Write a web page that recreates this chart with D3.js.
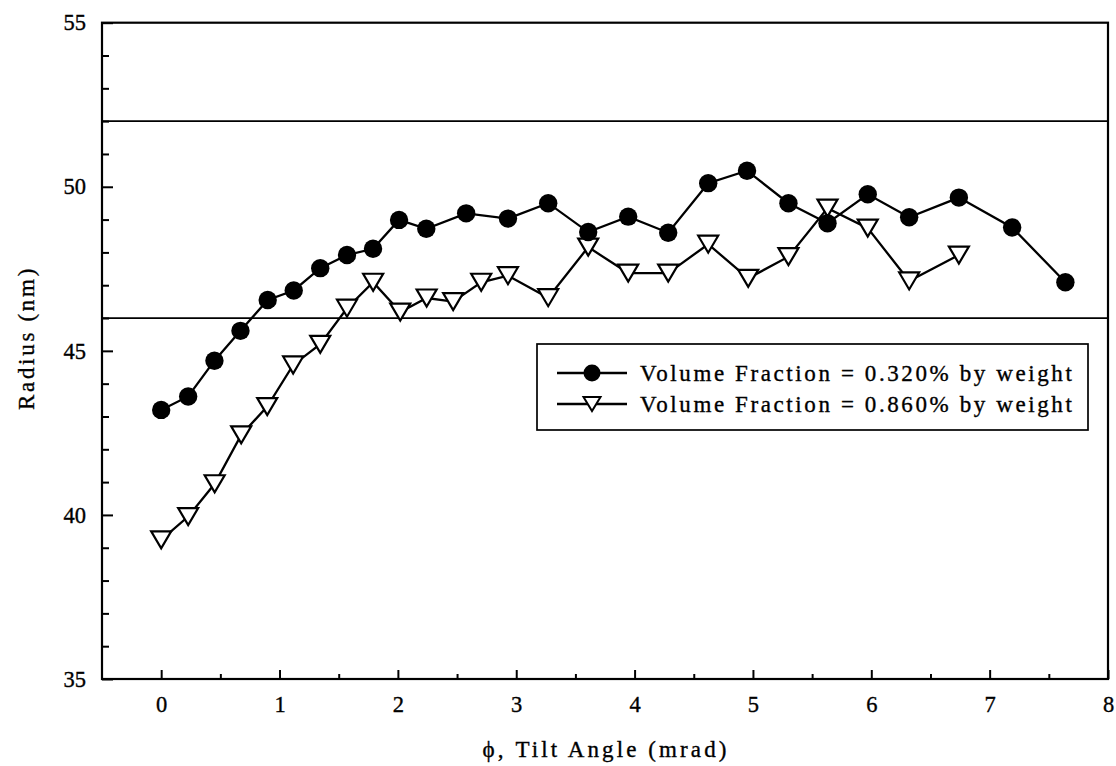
<!DOCTYPE html>
<html>
<head>
<meta charset="utf-8">
<script src="https://cdn.jsdelivr.net/npm/d3@7"></script>
<style>
  html, body { margin: 0; padding: 0; background: #fff; }
  svg text { font-family: "Liberation Serif", "Times New Roman", serif; fill: #000; stroke: #000; stroke-width: 0.35px; }
</style>
</head>
<body>
<svg id="chart" width="1116" height="766"></svg>
<script>
// Radius vs tilt angle for two volume fractions
const xTicks = [0, 1, 2, 3, 4, 5, 6, 7, 8];
const yTicks = [35, 40, 45, 50, 55];
const refLines = [52, 46];

const xCircle = [0, 0.228, 0.45, 0.67, 0.9, 1.12, 1.344, 1.57, 1.79, 2.01, 2.24, 2.577, 2.93, 3.27,
                 3.608, 3.946, 4.284, 4.622, 4.95, 5.30, 5.63, 5.97, 6.32, 6.74, 7.19, 7.64];
const yCircle = [43.20, 43.61, 44.70, 45.61, 46.55, 46.84, 47.52, 47.92, 48.11, 48.99, 48.72, 49.19, 49.03, 49.50,
                 48.62, 49.09, 48.60, 50.11, 50.49, 49.50, 48.89, 49.77, 49.07, 49.67, 48.76, 47.09];
const xTri = [0, 0.228, 0.452, 0.676, 0.896, 1.115, 1.344, 1.57, 1.791, 2.02, 2.243, 2.467, 2.704,
              2.93, 3.27, 3.608, 3.946, 4.284, 4.622, 4.96, 5.30, 5.63, 5.97, 6.32, 6.74];
const yTri = [39.24, 39.95, 40.95, 42.44, 43.30, 44.57, 45.20, 46.30, 47.09, 46.18, 46.61, 46.50, 47.09,
              47.29, 46.62, 48.16, 47.37, 47.37, 48.25, 47.21, 47.87, 49.35, 48.74, 47.13, 47.92];
const seriesLabels = ["Volume Fraction = 0.320% by weight", "Volume Fraction = 0.860% by weight"];

const svg = d3.select("#chart");
const L = 102, R = 1108, T = 22.7, B = 679;

const x = d3.scaleLinear().domain([-0.5, 8]).range([L, R]);
const y = d3.scaleLinear().domain([35, 55]).range([B, T]);

// reference lines
svg.selectAll("line.ref").data(refLines).enter().append("line")
  .attr("class", "ref")
  .attr("x1", L).attr("x2", R)
  .attr("y1", d => y(d)).attr("y2", d => y(d))
  .attr("stroke", "#000").attr("stroke-width", 1.7);

// minor ticks
const minorY = d3.range(36, 55, 1).filter(v => v % 5 !== 0);
const minorX = d3.range(0.5, 8, 1);

const yAxisMinor = svg.append("g").attr("transform", `translate(${L},0)`)
  .call(d3.axisLeft(y).tickValues(minorY).tickSize(-7).tickFormat(""));
const xAxisMinor = svg.append("g").attr("transform", `translate(0,${B})`)
  .call(d3.axisBottom(x).tickValues(minorX).tickSize(-5).tickFormat(""));

const yAxis = svg.append("g").attr("transform", `translate(${L},0)`)
  .call(d3.axisLeft(y).tickValues(yTicks).tickSize(-11).tickPadding(16).tickFormat(d3.format("d")));
const xAxis = svg.append("g").attr("transform", `translate(0,${B})`)
  .call(d3.axisBottom(x).tickValues(xTicks).tickSize(-9).tickPadding(17).tickFormat(d3.format("d")));

[yAxisMinor, xAxisMinor, yAxis, xAxis].forEach(g => {
  g.select(".domain").remove();
  g.selectAll(".tick line").attr("stroke", "#000").attr("stroke-width", 2);
});
[yAxis, xAxis].forEach(g => {
  g.selectAll(".tick text").attr("font-size", 22.5).attr("fill", "#000")
    .style("font-family", "'Liberation Serif', serif");
});
xAxis.selectAll(".tick text").attr("dy", "0.71em");

// frame
svg.append("rect")
  .attr("x", L).attr("y", T).attr("width", R - L).attr("height", B - T)
  .attr("fill", "none").attr("stroke", "#000").attr("stroke-width", 2.2);

// axis titles
svg.append("text")
  .attr("x", 606).attr("y", 757)
  .attr("text-anchor", "middle").attr("font-size", 23).attr("letter-spacing", 3.1)
  .text("\u03D5, Tilt Angle (mrad)");
svg.append("text")
  .attr("transform", `translate(34,338) rotate(-90)`)
  .attr("text-anchor", "middle").attr("font-size", 23).attr("letter-spacing", 2.7)
  .text("Radius (nm)");

const line = d3.line().x(d => x(d[0])).y(d => y(d[1]));
const circleData = xCircle.map((v, i) => [v, yCircle[i]]);
const triData = xTri.map((v, i) => [v, yTri[i]]);

svg.append("path").datum(circleData).attr("d", line)
  .attr("fill", "none").attr("stroke", "#000").attr("stroke-width", 2.3);
svg.append("path").datum(triData).attr("d", line)
  .attr("fill", "none").attr("stroke", "#000").attr("stroke-width", 2.3);

function triPath(w, h) {
  return `M${-w / 2},${-h / 2}L${w / 2},${-h / 2}L0,${h / 2}Z`;
}

svg.selectAll("path.tri").data(triData).enter().append("path")
  .attr("class", "tri")
  .attr("d", triPath(20, 17))
  .attr("transform", d => `translate(${x(d[0])},${y(d[1])})`)
  .attr("fill", "#fff").attr("stroke", "#000").attr("stroke-width", 2.2);

svg.selectAll("circle.pt").data(circleData).enter().append("circle")
  .attr("class", "pt")
  .attr("cx", d => x(d[0])).attr("cy", d => y(d[1])).attr("r", 9.2)
  .attr("fill", "#000");

// legend
const lg = svg.append("g");
lg.append("rect").attr("x", 537).attr("y", 344).attr("width", 551).attr("height", 86)
  .attr("fill", "#fff").attr("stroke", "#000").attr("stroke-width", 1.7);
const rows = [373, 404];
rows.forEach((ry, i) => {
  lg.append("line").attr("x1", 557).attr("x2", 627).attr("y1", ry).attr("y2", ry)
    .attr("stroke", "#000").attr("stroke-width", 2.3);
  if (i === 0) {
    lg.append("circle").attr("cx", 592).attr("cy", ry).attr("r", 8.5).attr("fill", "#000");
  } else {
    lg.append("path").attr("d", triPath(17, 14)).attr("transform", `translate(592,${ry})`)
      .attr("fill", "#fff").attr("stroke", "#000").attr("stroke-width", 2);
  }
  lg.append("text").attr("x", 640).attr("y", ry).attr("dy", "0.35em")
    .attr("font-size", 23).attr("letter-spacing", 2.6)
    .text(seriesLabels[i]);
});
</script>
</body>
</html>
